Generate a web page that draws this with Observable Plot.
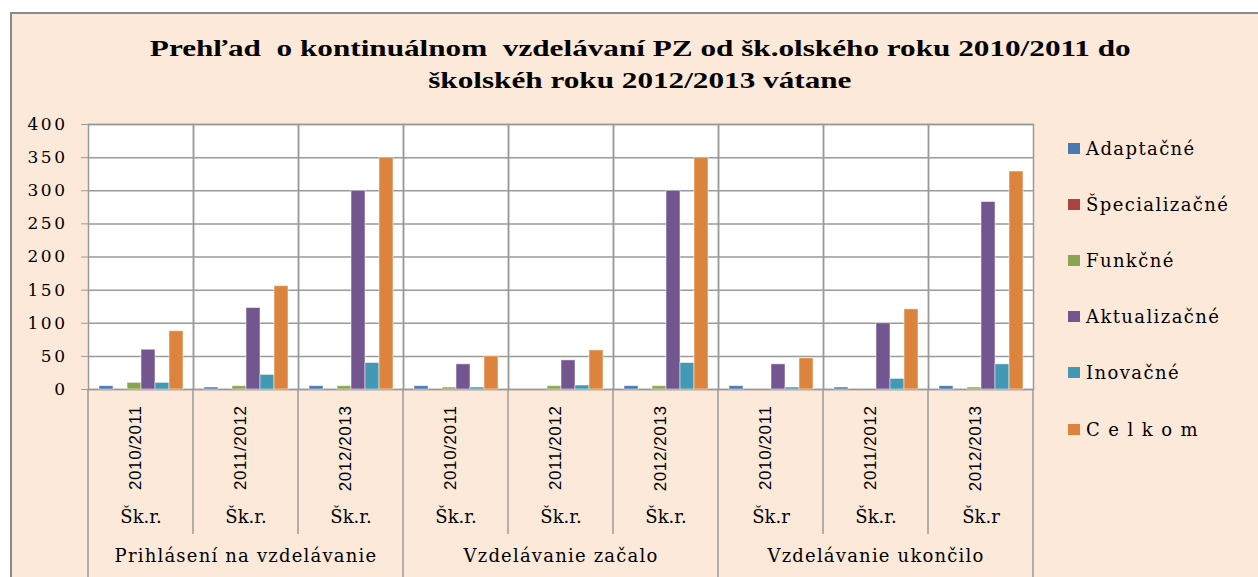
<!DOCTYPE html>
<html><head><meta charset="utf-8">
<script src="https://cdn.jsdelivr.net/npm/d3@7"></script>
<script src="https://cdn.jsdelivr.net/npm/@observablehq/plot@0.6"></script>
<style>
html,body{margin:0;padding:0;background:#fff;overflow:hidden;}
#wrap{position:relative;width:1258px;height:577px;overflow:hidden;}
#box{position:absolute;left:10px;top:12px;width:1260px;height:580px;background:#fde9d9;border-left:2px solid #8a8a8a;border-top:2px solid #8a8a8a;}
#title{position:absolute;left:20px;width:1240px;top:32px;text-align:center;font-family:"Liberation Serif";font-weight:bold;font-size:24px;line-height:32px;color:#000;}
#title div{white-space:pre;}
#title span{display:inline-block;transform:scaleX(1.3);transform-origin:center;}
#chart{position:absolute;left:0;top:110px;}
#legend{position:absolute;left:1068px;top:120px;}
.li{height:56.2px;display:flex;align-items:center;font-family:"DejaVu Serif";font-size:18px;letter-spacing:1.4px;color:#000;}
.sw{width:12px;height:11px;margin-right:6px;flex:none;}
svg [aria-label="y-axis tick label"] text{letter-spacing:2.5px;}
</style></head>
<body>
<div id="wrap">
  <div id="box"></div>
  <div id="title"></div>
  <div id="chart"></div>
  <div id="legend"></div>
</div>
<script>
const titleLines = ["Prehľad  o kontinuálnom  vzdelávaní PZ od šk.olského roku 2010/2011 do", "školskéh roku 2012/2013 vátane"];
const groupNames = ["Prihlásení na vzdelávanie", "Vzdelávanie začalo", "Vzdelávanie ukončilo"];
const yearLabels = ["2010/2011","2011/2012","2012/2013","2010/2011","2011/2012","2012/2013","2010/2011","2011/2012","2012/2013"];
const prefixLabels = ["Šk.r.","Šk.r.","Šk.r.","Šk.r.","Šk.r.","Šk.r.","Šk.r","Šk.r.","Šk.r"];
const series = ["Adaptačné", "Špecializačné", "Funkčné", "Aktualizačné", "Inovačné", "C e l k o m"];
const colors = ["#4A78B0", "#A84441", "#8AA552", "#735690", "#4399B4", "#DC843E"];
const adaptacne     = [5, 3, 5,   5, 0, 5,    5, 3, 5];
const specializacne = [0, 0, 0,   0, 0, 0,    0, 0, 0];
const funkcne       = [10, 5, 5,  3, 5, 5,    0, 0, 3];
const aktualizacne  = [60, 123, 300,  38, 44, 300,  38, 100, 283];
const inovacne      = [10, 22, 40,  3, 6, 40,   3, 16, 38];
const celkom        = [88, 156, 350,  50, 59, 350,  47, 121, 329];
const yTicks = [0, 50, 100, 150, 200, 250, 300, 350, 400];

const seriesValues = [adaptacne, specializacne, funkcne, aktualizacne, inovacne, celkom];
const rows = [];
yearLabels.forEach((yl, i) => series.forEach((s, j) => rows.push({cat: i, series: s, value: seriesValues[j][i]})));
const cats = yearLabels.map((year, i) => ({cat: i, year, prefix: prefixLabels[i]}));
const groupRows = groupNames.map((name, g) => ({name, cat: g * 3 + 1}));

d3.select("#title").selectAll("div").data(titleLines).join("div").append("span").text(d => d);

const grid = "#9a9a9a";
const chart = Plot.plot({
  width: 1046, height: 467,
  marginLeft: 88, marginRight: 13, marginTop: 14, marginBottom: 188,
  style: {background: "transparent", fontFamily: "DejaVu Serif", fontSize: "16px", color: "#000", overflow: "visible"},
  fx: {domain: d3.range(yearLabels.length), padding: 0, axis: null},
  x: {domain: series, paddingInner: 0, paddingOuter: 0.75, axis: null},
  y: {domain: [0, 400], axis: null},
  color: {domain: series, range: colors},
  marks: [
    Plot.frame({fill: "white"}),
    Plot.gridY(yTicks, {stroke: grid, strokeOpacity: 1, strokeWidth: 1.5}),
    Plot.frame({stroke: grid, strokeWidth: 1.5}),
    Plot.axisY(yTicks, {anchor: "left", label: null, tickSize: 7, tickPadding: 14, stroke: grid, fontSize: 17, fontFamily: "DejaVu Serif"}),
    Plot.barY(rows, {fx: "cat", x: "series", y: "value", fill: "series", stroke: "white", strokeOpacity: 0.5, strokeWidth: 1}),
    Plot.text(cats, {fx: "cat", text: "year", frameAnchor: "bottom", rotate: -90, textAnchor: "end", dy: 16, fontFamily: "Liberation Sans", fontSize: 17}),
    Plot.text(cats, {fx: "cat", text: "prefix", frameAnchor: "bottom", dy: 133, fontFamily: "DejaVu Serif", fontSize: 18}),
    Plot.text(groupRows, {fx: "cat", text: "name", frameAnchor: "bottom", dy: 172, fontFamily: "DejaVu Serif", fontSize: 18})
  ]
});
document.getElementById("chart").append(chart);

// category separators below the axis, placed through Plot's own scales
const fxS = chart.scale("fx"), yS = chart.scale("y");
const n = yearLabels.length;
const y0 = yS.apply(0);
d3.select(chart).append("g").attr("stroke", grid).attr("stroke-width", 1.5)
  .selectAll("line").data(d3.range(n + 1)).join("line")
  .attr("x1", i => i < n ? fxS.apply(i) : fxS.apply(n - 1) + fxS.bandwidth)
  .attr("x2", i => i < n ? fxS.apply(i) : fxS.apply(n - 1) + fxS.bandwidth)
  .attr("y1", y0)
  .attr("y2", i => i % 3 === 0 ? y0 + 190 : y0 + 145);

// letter spacing for the group labels, to match the wide reference lettering
d3.select(chart).selectAll("text").filter(function() { return groupNames.includes(this.textContent); }).style("letter-spacing", "1.2px");
d3.select(chart).selectAll("text").filter(function() { return yearLabels.includes(this.textContent); }).style("letter-spacing", "0.6px");

const leg = d3.select("#legend").selectAll("div").data(series).join("div").attr("class", "li");
leg.append("div").attr("class", "sw").style("background", (d, i) => colors[i]);
leg.append("span").text(d => d);
</script>
</body></html>
